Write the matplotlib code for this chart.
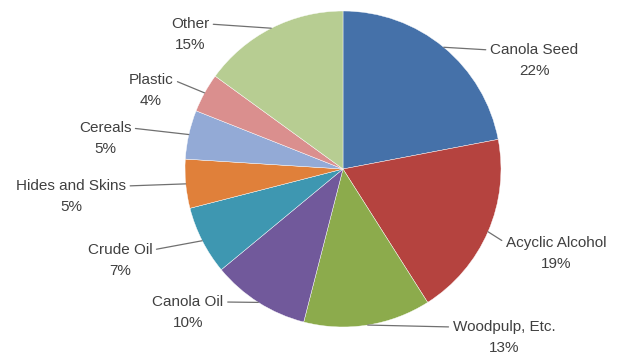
import numpy as np
import matplotlib.pyplot as plt

plt.rcParams['font.family'] = ['Liberation Sans', 'DejaVu Sans']

# data
labels = ["Canola Seed", "Acyclic Alcohol", "Woodpulp, Etc.", "Canola Oil", "Crude Oil",
          "Hides and Skins", "Cereals", "Plastic", "Other"]
shares = [22, 19, 13, 10, 7, 5, 5, 4, 15]
colors = ["#4571A9", "#B5433F", "#8CAB4C", "#71599B", "#3E97B1",
          "#E0803A", "#93AAD6", "#DA8F8E", "#B7CD92"]

# label placement (pixels, image y measured from top) - name line centre
label_pos = [(534, 50), (556, 243), (504, 327), (188, 302), (120, 250),
             (71, 186), (105, 128), (151, 80), (190, 24)]

W, H = 623, 354
cx, cy, r = 343, 169, 158

fig = plt.figure(figsize=(W / 100, H / 100), dpi=100)
ax = fig.add_axes([0, 0, 1, 1])

wedges, _ = ax.pie(shares, colors=colors, startangle=90, counterclock=False,
                   center=(cx, H - cy), radius=r,
                   wedgeprops=dict(edgecolor="white", linewidth=0.3))
ax.set_xlim(0, W)
ax.set_ylim(0, H)
ax.set_aspect("equal")
ax.axis("off")

txt_color = "#404040"
for w, name, share, (lx, ly) in zip(wedges, labels, shares, label_pos):
    mid = np.deg2rad((w.theta1 + w.theta2) / 2)
    ex = cx + r * np.cos(mid)
    ey = (H - cy) + r * np.sin(mid)
    right = lx > cx
    ax.annotate(name, xy=(ex, ey), xytext=(lx, H - ly), ha="center", va="center",
                fontsize=11, color=txt_color,
                arrowprops=dict(arrowstyle="-", color="#707070", lw=0.9,
                                shrinkA=1, shrinkB=0,
                                relpos=(0, 0.5) if right else (1, 0.5)))
    ax.text(lx, H - ly - 21, f"{share}%", ha="center", va="center",
            fontsize=11, color=txt_color)

fig.savefig("out.png", dpi=100)
